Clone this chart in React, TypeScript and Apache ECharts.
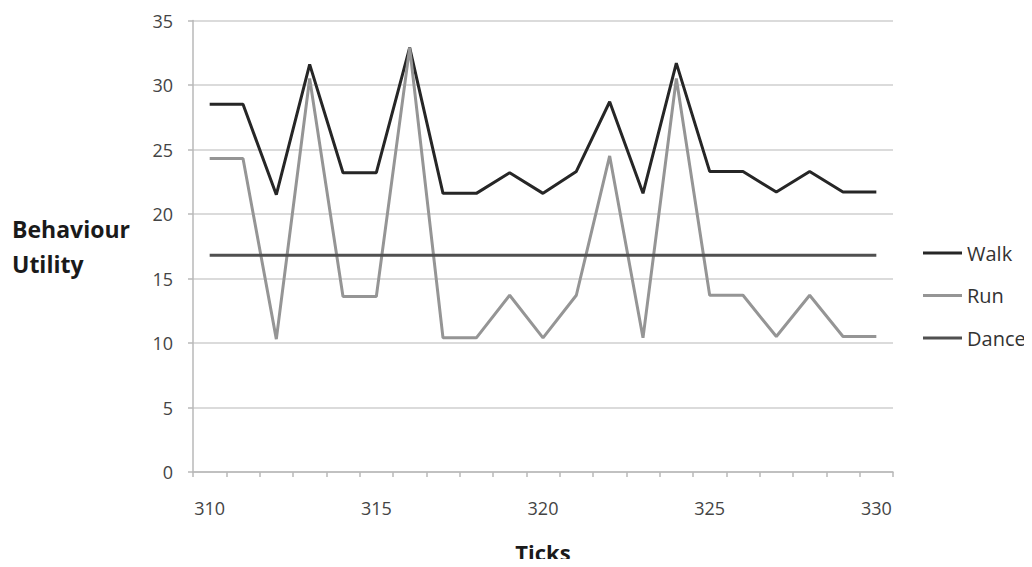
import React, { useEffect, useRef } from "react";
import * as echarts from "echarts";

const ticks = ["310","311","312","313","314","315","316","317","318","319","320","321","322","323","324","325","326","327","328","329","330"];
const walk = [28.5, 28.5, 21.5, 31.6, 23.2, 23.2, 32.9, 21.6, 21.6, 23.2, 21.6, 23.3, 28.7, 21.6, 31.7, 23.3, 23.3, 21.7, 23.3, 21.7, 21.7];
const run = [24.3, 24.3, 10.3, 30.5, 13.6, 13.6, 32.9, 10.4, 10.4, 13.7, 10.4, 13.7, 24.5, 10.4, 30.5, 13.7, 13.7, 10.5, 13.7, 10.5, 10.5];
const dance = [16.8, 16.8, 16.8, 16.8, 16.8, 16.8, 16.8, 16.8, 16.8, 16.8, 16.8, 16.8, 16.8, 16.8, 16.8, 16.8, 16.8, 16.8, 16.8, 16.8, 16.8];
const yTicks = { min: 0, max: 35, interval: 5 };

const FONT = "Open Sans, Lato, sans-serif";

export default function App() {
  const ref = useRef<HTMLDivElement>(null);
  useEffect(() => {
    if (!ref.current) return;
    const chart = echarts.init(ref.current, null, { renderer: "svg" });
    const mk = (name: string, data: number[], color: string) => ({
      name,
      type: "line",
      data,
      symbol: "none",
      lineStyle: { color, width: 3 },
      itemStyle: { color },
    });
    chart.setOption({
      animation: false,
      backgroundColor: "#ffffff",
      textStyle: { fontFamily: FONT },
      grid: { left: 193, right: 139, top: 20.5, bottom: 95, containLabel: false, outerBoundsMode: "none" },
      legend: {
        orient: "vertical",
        left: 923,
        top: 243,
        padding: 0,
        itemWidth: 39,
        itemHeight: 3,
        itemGap: 22.5,
        icon: "rect",
        textStyle: { fontSize: 20, color: "#333", fontFamily: FONT },
        data: ["Walk", "Run", "Dance"],
      },
      xAxis: {
        type: "category",
        data: ticks,
        boundaryGap: true,
        name: "Ticks",
        nameLocation: "middle",
        nameGap: 69,
        nameTextStyle: { fontSize: 22, fontWeight: "bold", color: "#1a1a1a", fontFamily: FONT },
        axisLine: { lineStyle: { color: "#b8b8b8", width: 1.5 } },
        axisTick: { show: true, interval: 0, alignWithLabel: false, length: 5, lineStyle: { color: "#b8b8b8", width: 1.5 } },
        axisLabel: { interval: 4, color: "#444", fontSize: 18, margin: 27, fontFamily: FONT },
        splitLine: { show: false },
      },
      yAxis: {
        type: "value",
        min: yTicks.min,
        max: yTicks.max,
        interval: yTicks.interval,
        name: "Behaviour\nUtility",
        nameLocation: "middle",
        nameRotate: 0,
        nameGap: 181,
        nameTextStyle: { fontSize: 23, fontWeight: "bold", color: "#1a1a1a", align: "left", lineHeight: 35, fontFamily: FONT },
        axisLine: { show: true, lineStyle: { color: "#b8b8b8", width: 1.5 } },
        axisTick: { show: true, length: 5, lineStyle: { color: "#b8b8b8", width: 1.5 } },
        axisLabel: { color: "#444", fontSize: 18, margin: 20, fontFamily: FONT },
        splitLine: { lineStyle: { color: "#cfcfcf", width: 1.5 } },
      },
      series: [
        mk("Walk", walk, "#262626"),
        mk("Run", run, "#959595"),
        mk("Dance", dance, "#505050"),
      ],
    });
    return () => chart.dispose();
  }, []);
  return <div ref={ref} style={{ width: 1032, height: 567, margin: -8 }} />;
}
